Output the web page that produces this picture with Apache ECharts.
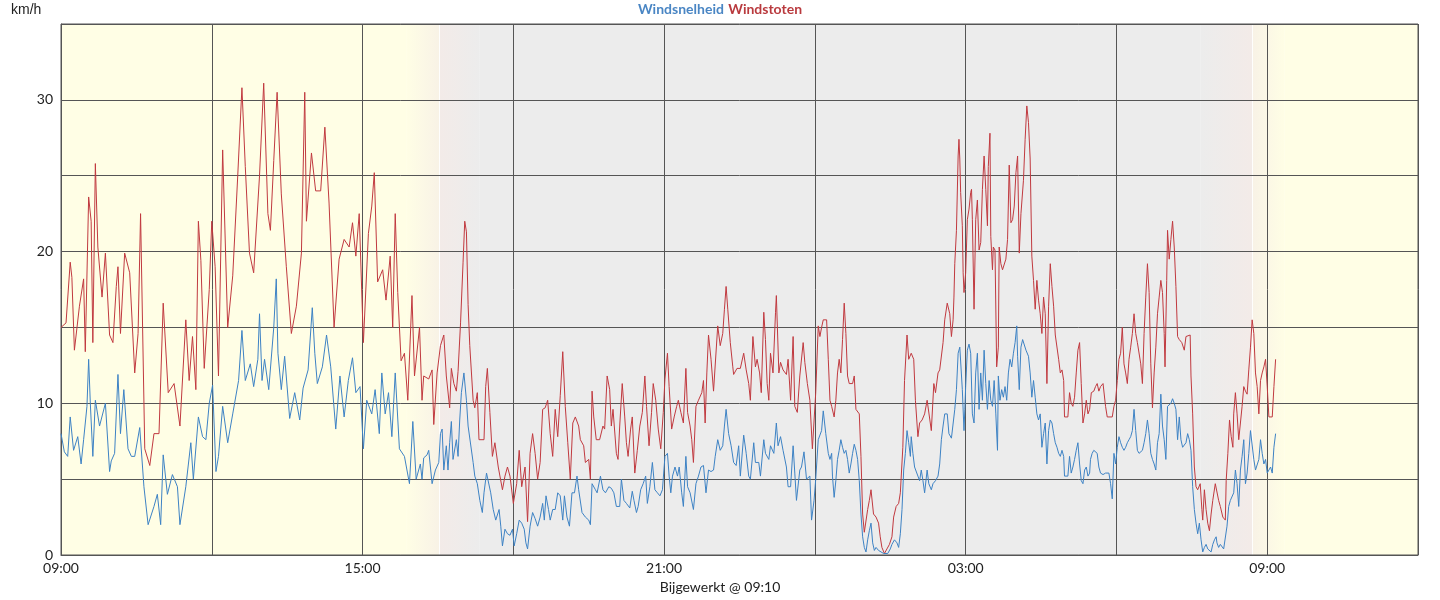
<!DOCTYPE html>
<html><head><meta charset="utf-8">
<script src="https://cdn.jsdelivr.net/npm/echarts@6/dist/echarts.min.js"></script>
<style>html,body{margin:0;padding:0;background:#fff}#c{width:1440px;height:600px}</style>
</head><body><div id="c"></div>
<script>
// minutes after 09:00 (day 1), value in km/h
const seriesNames = ['Windsnelheid', 'Windstoten'];
const yUnit = 'km/h';
const updatedLabel = 'Bijgewerkt @ 09:10';
const startHour = 9;
// daylight transitions (minutes after 09:00): sunset fade start, sunset, dusk end, dawn start, sunrise, day full
const twilight = [412, 452, 500, 1360, 1422, 1461];

const gustReadings = [[0,15],[6,15.3],[11,19.3],[13,18.3],[16,13.5],[22,16.4],[27,18.2],[29,13.4],[33,23.6],[36,22],[38,14],[41,25.8],[44,20.3],[49,17],[53,19.9],[58,14.5],[62,14],[66,17.7],[68,19],[71,14.6],[76,19.9],[82,18.6],[88,12],[92,14.6],[95,22.5],[100,7],[106,5.9],[111,8],[117,8],[122,16.6],[128,10.7],[135,11.3],[142,8.5],[149,15.5],[153,11.5],[157,14.4],[161,10.9],[164,22],[167,19.4],[171,12.3],[177,17.5],[180,22],[184,19],[188,11.8],[193,26.7],[199,15],[205,18.4],[211,25],[216,30.8],[220,25.6],[225,19.9],[230,18.6],[237,25],[242,31.1],[247,22.5],[250,21.4],[254,26],[258,30.5],[263,23.8],[269,19],[275,14.6],[281,16.4],[287,19.9],[291,30.5],[293,22],[299,26.5],[304,24],[310,24],[315,28.2],[320,23.2],[326,15],[332,19.5],[338,20.8],[344,20.3],[348,21.9],[352,19.7],[356,22.5],[361,14],[367,21.2],[371,23],[374,25.2],[378,18],[384,18.8],[388,16.8],[393,19.7],[396,15],[399,22.5],[402,17.3],[406,12.8],[410,13.3],[414,10.2],[419,17.1],[422,11.8],[428,15],
[431,10.2],[433,11.8],[439,11.6],[443,12.2],[445,8.6],[449,12],[453,13.8],[457,14.5],[460,11.8],[464,9.7],[466,12.3],[469,11.3],[472,10.8],[474,12.1],[477,15.3],[480,19.3],[482,22],[484,21.3],[486,16.5],[488,13.8],[492,10.2],[494,9.7],[497,10.7],[499,7.6],[505,7.6],[507,11.1],[509,12.3],[512,9.4],[515,6.5],[518,7.4],[522,5.8],[527,4.3],[530,5.2],[533,5.8],[536,5.2],[540,3.4],[544,4.7],[547,6.9],[550,4.5],[554,5.8],[557,2.2],[560,6.7],[563,8],[566,6.7],[569,5],[572,6.1],[575,9.6],[578,9.7],[581,10.2],[584,8],[587,6.5],[590,9.6],[593,7.8],[596,10.5],[599,13.4],[602,9.8],[605,7.4],[608,5],[611,8.7],[614,9.1],[618,8.5],[620,7.6],[624,7.2],[626,6.1],[630,6.3],[632,5],[634,10.8],[636,9.1],[639,7.6],[643,7.6],[647,8.5],[649,8.3],[652,11.8],[655,10.9],[657,8.5],[659,9.6],[663,6.7],[665,6.3],[667,8.5],[670,11.3],[673,9.1],[675,7.4],[677,6.5],[680,8.3],[682,9.1],[685,5.4],[688,6.9],[691,8.5],[694,9.4],[697,11.8],[699,9.8],[702,7.2],[705,9.4],[707,11.3],[710,10.2],[713,8.3],[716,7],[719,9.4],[721,11.6],[724,13.3],[726,11.1],[729,8.3],[732,9.1],[735,9.8],[737,10.2],[740,9.4],[743,8.7],[746,12.3],[748,9.4],[751,8.5],[753,7.6],[755,6.1],[758,9.8],[761,10.2],[765,10.7],[767,11.5],[769,8.7],[771,12],[773,14.5],[776,12.9],[779,10.8],[781,10.8],[784,15.1],[787,13.8],[790,14.6],[792,16.2],[794,17.7],[796,16.2],[799,14],[802,12.4],[803,11.9],[807,12.3],[811,12.3],[815,13.3],[818,12.2],[821,11.3],[823,10.2],[826,14.4],[829,12.4],[831,12.9],[834,12],[836,10.7],[839,16],[841,14.2],[843,11.3],[845,10.2],[847,13.3],[850,12],[853,16],[854,17.1],[857,12],[859,12.7],[862,12.2],[866,11.9],[868,12.9],[871,10.2],[874,14.4],[876,9.8],[879,9.4],[882,11.8],[886,14],[888,12.7],[891,11.3],[894,10.2],[897,7],[899,7],[901,10.7],[904,15.1],
[906,14.4],[908,15],[910,15.5],[914,15.5],[916,12.9],[918,10.2],[920,9.8],[923,9.1],[925,10.2],[927,12],[929,12.9],[931,12],[933,14.2],[935,16.6],[937,14.6],[939,11.8],[941,11.3],[945,11.3],[947,11.8],[949,9.6],[953,9.3],[955,6.5],[957,2.7],[959,1.5],[961,1.5],[963,3],[965,3.6],[967,4.3],[970,2.7],[973,2.5],[976,2.1],[978,1.2],[980,0.5],[983,0.1],[986,0.4],[989,0.7],[992,1.2],[994,2.5],[997,3.2],[1000,3.4],[1002,4.1],[1005,7.1],[1007,11.5],[1010,14.5],[1012,12.9],[1015,13.3],[1018,12.9],[1020,10.2],[1023,7.8],[1025,8.7],[1028,8.9],[1031,9.3],[1034,10.2],[1036,10.2],[1039,8.2],[1042,11.3],[1044,10.7],[1047,12],[1049,12.2],[1053,14],[1055,15.5],[1058,16.6],[1061,15.9],[1063,14.4],[1065,15.5],[1066,17],[1067,19.2],[1069,21.4],[1071,26.3],[1072,27.4],[1073,26.1],[1074,23.9],[1076,21.7],[1077,18.6],[1078,17.3],[1080,18.6],[1082,22.1],[1084,22.8],[1086,23.9],[1087,24.1],[1088,22.1],[1090,16.2],[1092,22.1],[1094,23.4],[1096,20.1],[1098,20.6],[1100,24.1],[1102,26.3],[1104,24.1],[1106,21.7],[1107,25.6],[1109,27.8],[1110,21],[1112,18.8],[1113,20.3],[1115,20.1],[1117,12.4],[1119,13.7],[1120,20.3],[1122,19.2],[1124,18.8],[1126,18.8],[1128,19.5],[1130,20.8],[1132,25.7],[1134,21.9],[1136,22.1],[1138,23],[1140,25.2],[1142,26.3],[1144,19.9],[1146,22.5],[1149,24.7],[1151,27.4],[1153,29.6],[1155,28.5],[1157,26.1],[1159,19.7],[1161,18.1],[1163,16.2],[1165,18.1],[1167,16.8],[1169,15.9],[1171,14.6],[1173,17],[1175,15.9],[1177,11.3],[1179,16.4],[1181,19.2],[1183,17.7],[1185,16.4],[1187,14.5],[1189,14.4],[1191,12.9],[1193,12],[1195,12.2],[1197,11.5],[1198,9.1],[1202,9.1],[1204,10.7],[1206,10],[1208,9.8],[1210,10.4],[1212,12],[1214,13.5],[1216,14],[1218,11.3],[1220,8.7],[1222,9.3],[1224,10.2],[1226,9.3],[1228,9.6],[1230,10.7],[1233,10.8],[1235,11.1],[1237,11.3],[1239,10.8],[1241,11.1],[1244,11.3],[1247,9.8],[1249,9.1],[1255,9.1],[1257,9.8],[1259,10.2],[1261,11.5],[1263,12.9],[1265,13.3],[1267,15],[1269,12.6],[1271,12],[1273,11.3],[1275,12.9],[1277,13.7],[1279,14.6],[1281,15.9],[1283,14.6],[1285,14],[1287,14],[1289,12.6],[1291,11.3],[1293,14.6],[1295,17],[1297,19.2],[1299,17.3],[1301,12.6],[1303,9.7],[1305,12],[1307,13.7],[1309,15.9],[1311,17],[1313,18.1],[1315,17.3],[1317,14.6],[1318,12.4],[1320,18.1],[1321,21.4],[1323,19.5],[1325,20.8],[1327,22],[1329,20.3],[1331,17.7],[1333,14.4],[1335,14.2],[1338,14],[1341,13.5],[1343,14.4],[1345,14.5],[1348,14.5],[1349,11.8],[1351,9.3],[1353,5.8],[1355,4.5],[1357,4.3],[1360,4.7],[1362,3],[1363,2.3],[1365,4.3],[1367,3],[1369,2.1],[1371,1.6],[1373,2.7],[1375,3.6],[1378,4.7],[1380,4.7],[1382,3.6],[1384,3.2],[1387,2.5],[1390,2.3],[1391,4.9],[1393,6.7],[1395,8.9],[1397,7.8],[1399,7.1],[1400,9.3],[1402,10.7],[1404,9.3],[1406,7.6],[1408,8.7],[1410,9.8],[1412,11.1],[1414,10.8],[1416,10.6],[1418,12.2],[1420,13.7],[1422,15.5],[1424,14.6],[1426,12],[1428,11.1],[1430,9.3],[1432,11.5],[1434,12],[1436,12.4],[1438,12.9],[1440,11.1],[1442,9.1],[1446,9.1],[1448,11.1],[1450,12.9]];

const windReadings = [[0,8],[4,6.8],[8,6.5],[11,9.1],[15,6.9],[20,7.8],[24,6],[27,7.6],[31,9.8],[33,12.9],[35,10],[38,6.5],[41,10.2],[46,8.5],[53,10],[58,5.5],[60,6.2],[64,6.7],[68,11.9],[71,8],[75,10.9],[80,7],[84,6.5],[88,6.5],[94,8.4],[99,4.5],[104,2],[111,3.2],[115,4],[119,2],[122,6.6],[127,4],[133,5.3],[139,4.5],[142,2],[149,4.5],[155,7.4],[158,5],[164,9.1],[169,7.8],[173,7.6],[177,10],[181,11.2],[185,5.5],[188,6.5],[193,9.8],[199,7.4],[205,9.3],[212,11.5],[216,14.8],[220,11.5],[226,12.6],[230,11.1],[235,12.9],[237,15.9],[240,11.5],[243,12.9],[248,10.9],[254,15],[257,18.2],[259,13.3],[263,10.9],[267,13.1],[273,9],[279,10.7],[285,8.9],[289,11],[295,12.2],[300,16.3],[303,13.3],[306,11.3],[312,12.4],[317,14.5],[322,12.4],[328,8.3],[333,11.8],[338,9.1],[343,11.5],[348,13],[352,10.7],[357,11.1],[361,7],[365,10.2],[371,9.3],[375,10.9],[380,8],[383,12],[387,9.3],[391,10.7],[395,7.8],[399,12],[404,7],[410,6.5],[416,4.7],[420,8.8],[424,5],[429,6],
[431,5],[433,6.4],[437,6.6],[439,6.9],[443,4.7],[447,5.6],[451,6.1],[453,8],[455,8.3],[457,5.6],[460,7.2],[462,5.6],[464,7.4],[466,8.8],[468,6.3],[472,7.6],[474,6.5],[476,8.9],[478,10.7],[481,12],[484,10.2],[486,8.5],[488,8.5],[492,6.1],[494,5.2],[497,4.7],[500,3.6],[503,2.8],[505,4.1],[508,5.4],[510,5.5],[513,4.1],[516,3],[519,2.3],[523,3],[525,1.9],[527,0.6],[530,1.7],[533,1.4],[536,1.3],[539,1.7],[541,0.6],[544,1.4],[547,2.3],[550,2.1],[553,1.7],[555,0.8],[557,0.4],[560,1.9],[563,2.8],[566,2.4],[569,1.9],[572,2.5],[575,3.4],[577,2.3],[579,3.9],[582,3],[584,2.3],[587,3],[590,3],[593,4.1],[596,3.9],[599,2.3],[601,3.9],[604,2.5],[607,1.9],[610,4.1],[613,4.1],[616,5.2],[618,4.3],[622,2.8],[626,2.5],[630,2.3],[632,2],[634,4.7],[638,4.3],[640,4.1],[644,5.2],[647,4.3],[650,4.1],[654,4.5],[657,4.4],[660,4.1],[663,3.2],[667,3.2],[669,5],[672,3.6],[675,3.4],[679,3.1],[682,4.2],[684,3.6],[687,2.8],[689,3.2],[692,4.3],[695,4.7],[698,5.2],[700,3.4],[703,4.5],[706,6.1],[709,4.3],[712,4.1],[715,3.9],[718,4.3],[721,6.5],[724,6.7],[726,5.2],[728,4.1],[730,5.2],[733,5.8],[736,5.2],[738,5.8],[741,4.1],[743,3.2],[746,6.5],[748,4.5],[751,4.1],[755,3],[758,4.7],[761,5.2],[764,5.8],[767,5.9],[770,4.1],[773,5.6],[776,5.5],[779,5.6],[781,6.5],[784,7.6],[787,6.9],[790,7.2],[792,8.5],[794,9.6],[797,8],[800,7.2],[803,6.1],[806,5.9],[809,7.2],[811,5.2],[815,7.9],[818,6.7],[821,5.2],[823,5],[827,7.4],[829,6.1],[833,6.1],[835,5.2],[839,7.6],[841,6.7],[845,6.3],[847,7.2],[851,6.7],[854,8.7],[856,7.2],[859,7.8],[862,6.9],[866,5.8],[868,4.5],[871,4.5],[874,7.2],[876,5.4],[878,3.6],[882,5.6],[884,5.8],[887,6.8],[890,5],[894,5.2],[896,2.3],[899,3.6],[901,5],[904,7.6],
[908,8.2],[910,9.5],[913,8],[916,6.7],[918,6.3],[920,6.7],[921,5.2],[923,3.8],[925,4.9],[927,6.3],[929,6.9],[931,7.6],[933,7.1],[935,6.7],[937,6.9],[939,6.3],[941,5.4],[943,6],[945,6.7],[947,7.3],[949,6.9],[951,6.3],[953,4.9],[955,2.7],[957,1.2],[959,0.5],[961,0.2],[963,1],[965,1.6],[967,2.1],[969,0.8],[971,0.3],[973,0.5],[976,0.3],[979,0.2],[982,0.1],[984,0],[987,0.1],[990,0.4],[992,0.7],[995,1],[998,0.8],[1000,0.5],[1002,1.4],[1004,3],[1006,5.6],[1008,6.7],[1010,8.2],[1012,7.4],[1014,6.5],[1015,7.8],[1017,6.7],[1019,5.8],[1021,5.7],[1023,5.2],[1025,4.9],[1027,5.6],[1029,4.9],[1031,4.1],[1034,5.6],[1036,4.7],[1039,4.3],[1041,4.7],[1044,4.9],[1047,5.2],[1049,6],[1051,7.6],[1053,8.5],[1055,9.3],[1058,9.3],[1060,8],[1063,7.7],[1065,7.7],[1067,9.6],[1069,10.9],[1071,13.3],[1073,13.7],[1075,13.6],[1076,10.9],[1078,8.2],[1079,9.6],[1080,11.1],[1082,13.5],[1084,13.9],[1086,13.3],[1088,9.3],[1090,8.7],[1092,12],[1094,13.3],[1096,9.6],[1098,12],[1100,10.2],[1102,13.5],[1104,11.3],[1106,9.6],[1108,11.5],[1110,10.2],[1112,9.8],[1114,11.5],[1116,9.3],[1118,6.9],[1119,11.8],[1121,10.2],[1123,10.9],[1125,10.4],[1127,11.1],[1129,10.2],[1131,12],[1133,12.9],[1135,12.4],[1137,13.3],[1139,14],[1141,15.1],[1142,13.1],[1144,10.9],[1146,13.7],[1148,14.2],[1150,14.2],[1152,13.5],[1155,13.1],[1157,12],[1159,10.4],[1161,11.5],[1163,10.4],[1165,9.3],[1167,8.9],[1169,9.3],[1171,7.1],[1173,8],[1175,8.7],[1177,6],[1179,8.2],[1181,8.9],[1183,8.7],[1185,8],[1187,7.4],[1189,7.1],[1191,6.7],[1193,6.5],[1195,6.9],[1197,6.5],[1198,5.2],[1202,5.2],[1204,6.5],[1206,5.4],[1208,5.8],[1210,6.3],[1212,6.9],[1214,7.4],[1216,6],[1218,4.9],[1220,4.7],[1222,5.6],[1224,5.8],[1226,5.2],[1228,5.4],[1229,6.3],[1231,6.7],[1233,6.9],[1235,6.8],[1237,6.7],[1239,5.8],[1241,5.4],[1244,5.3],[1247,5.4],[1251,5.4],[1253,4.7],[1255,3.7],[1257,6.7],[1259,6],[1261,7.1],[1263,7.8],[1265,7.4],[1267,7.1],[1269,6.9],[1271,7.1],[1273,7.4],[1275,7.6],[1277,7.8],[1279,8.2],[1281,9.6],[1283,8.2],[1285,6.9],[1287,6.7],[1289,6.8],[1291,6.9],[1293,7.4],[1295,8],[1297,8.9],[1299,8],[1301,6.7],[1303,6.3],[1305,6],[1307,5.6],[1309,7.4],[1311,8],[1313,10.6],[1315,8.5],[1317,7.6],[1319,6.3],[1321,9.8],[1323,9.8],[1325,10],[1327,10.3],[1329,10],[1331,9.6],[1333,7.6],[1335,9.1],[1337,7.6],[1339,7.1],[1341,7.1],[1343,7.4],[1345,8],[1347,7.6],[1349,6.9],[1351,4.5],[1353,3],[1355,2.1],[1357,1.4],[1359,2.1],[1361,1],[1363,0.2],[1365,0.5],[1367,0.7],[1369,0.4],[1371,0.3],[1373,0.2],[1375,0.7],[1377,1],[1379,1.2],[1380,0.8],[1382,0.5],[1384,0.7],[1386,0.8],[1388,0.4],[1390,0.3],[1392,1.9],[1394,3.2],[1396,3.6],[1398,3.6],[1400,4.1],[1402,5.6],[1404,4.7],[1406,3.2],[1408,5.6],[1410,6.5],[1412,7.6],[1414,4.7],[1416,5.4],[1418,6.7],[1420,8.2],[1422,8.2],[1424,6.3],[1426,5.6],[1428,5.6],[1430,6.3],[1432,7.6],[1434,6.7],[1436,6],[1438,6.3],[1440,5.4],[1442,5.6],[1444,5.8],[1446,5.4],[1448,7.1],[1450,8]];

const DAY = '#fffee5', NIGHT = '#ececec', ROSE = '#f3ebe8', CREAM = '#f8f2e6';
const grad = (a, b) => new echarts.graphic.LinearGradient(0, 0, 1, 0, [{offset: 0, color: a}, {offset: 1, color: b}]);
function clock(m) {
  const t = ((startHour * 60 + m) % 1440 + 1440) % 1440;
  const h = Math.floor(t / 60), mm = t % 60;
  return String(h).padStart(2, '0') + ':' + String(mm).padStart(2, '0');
}
const FONT = 'Lato';
const chart = echarts.init(document.getElementById('c'));
chart.setOption({
  animation: false,
  backgroundColor: '#fff',
  textStyle: {fontFamily: FONT},
  title: [
    {text: '{a|' + seriesNames[0] + '} {b|' + seriesNames[1] + '}', left: 'center', top: 0, padding: 0,
     textStyle: {rich: {a: {color: '#4a86c4', fontSize: 14, fontFamily: FONT, fontWeight: 'bold'},
                        b: {color: '#b93a3e', fontSize: 14, fontFamily: FONT, fontWeight: 'bold'}}}},
    {text: yUnit, left: 11, top: 3, padding: 0, textStyle: {color: '#222', fontSize: 14, fontWeight: 'normal', fontFamily: 'Liberation Sans'}},
    {text: updatedLabel, left: 'center', top: 580, padding: 0, textStyle: {color: '#222', fontSize: 14, fontWeight: 'normal', fontFamily: FONT}}
  ],
  grid: {left: 61, right: 22, top: 24, bottom: 45, show: true, borderColor: '#555', borderWidth: 1, backgroundColor: 'transparent'},
  xAxis: {
    type: 'value', min: 0, max: 1620, interval: 180,
    axisLine: {lineStyle: {color: '#555', width: 1}},
    axisTick: {show: false},
    axisLabel: {color: '#222', fontSize: 14, margin: 6, fontFamily: FONT,
      formatter: v => (v % 360 === 0 && v <= 1440) ? clock(v) : ''},
    splitLine: {show: true, lineStyle: {color: '#555', width: 1}}
  },
  yAxis: {
    type: 'value', min: 0, max: 35, interval: 5,
    axisLine: {show: true, lineStyle: {color: '#555', width: 1}},
    axisTick: {show: false},
    axisLabel: {color: '#222', fontSize: 14, margin: 8, fontFamily: FONT,
      formatter: v => (v % 10 === 0) ? String(v) : ''},
    splitLine: {show: true, lineStyle: {color: '#555', width: 1}}
  },
  series: [
    {
      type: 'line', data: [], silent: true, z: -5,
      markArea: {
        silent: true, z: -5,
        data: [
          [{xAxis: 0, itemStyle: {color: DAY}}, {xAxis: twilight[0]}],
          [{xAxis: twilight[0], itemStyle: {color: grad(DAY, CREAM)}}, {xAxis: twilight[1]}],
          [{xAxis: twilight[1], itemStyle: {color: grad(ROSE, NIGHT)}}, {xAxis: twilight[2]}],
          [{xAxis: twilight[2], itemStyle: {color: NIGHT}}, {xAxis: twilight[3]}],
          [{xAxis: twilight[3], itemStyle: {color: grad(NIGHT, ROSE)}}, {xAxis: twilight[4]}],
          [{xAxis: twilight[4], itemStyle: {color: grad(CREAM, DAY)}}, {xAxis: twilight[5]}],
          [{xAxis: twilight[5], itemStyle: {color: DAY}}, {xAxis: 1620}]
        ]
      },
      markLine: {
        silent: true, z: -4, symbol: ['none', 'none'], label: {show: false},
        lineStyle: {color: 'rgba(255,255,255,0.85)', width: 1, type: 'solid'},
        data: [{xAxis: twilight[1]}, {xAxis: twilight[4]}]
      }
    },
    {
      name: seriesNames[1], type: 'line', showSymbol: false, symbol: 'none',
      lineStyle: {color: '#c0393f', width: 1}, itemStyle: {color: '#c0393f'},
      data: gustReadings, z: 3
    },
    {
      name: seriesNames[0], type: 'line', showSymbol: false, symbol: 'none',
      lineStyle: {color: '#3d82c4', width: 1}, itemStyle: {color: '#3d82c4'},
      data: windReadings, z: 4
    }
  ]
});
</script>
</body></html>
